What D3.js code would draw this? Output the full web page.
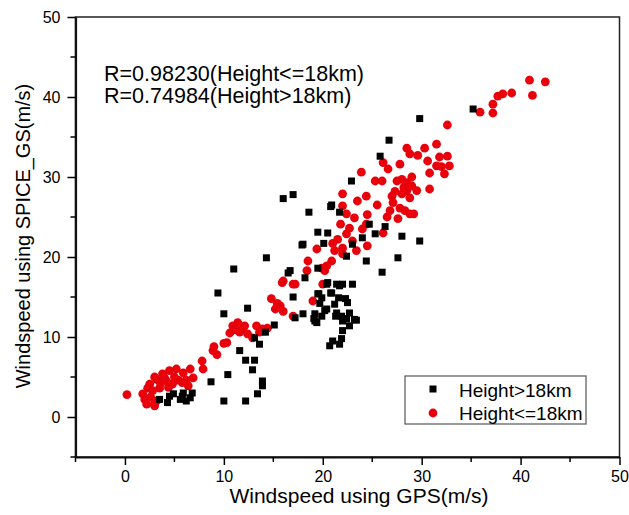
<!DOCTYPE html>
<html>
<head>
<meta charset="utf-8">
<style>
  body { margin: 0; background: #fff; font-family: "Liberation Sans", Arial, sans-serif; }
  svg { display: block; }
  .tick text { font-size: 16px; fill: #000; }
</style>
</head>
<body>
<svg width="629" height="515"></svg>
<script src="https://d3js.org/d3.v7.min.js"></script>
<script>
// Height > 18km (black squares), [GPS, SPICE_GS]
var above18 = [
  [3.5,2.2],[4.3,1.8],[4.9,2.9],[5.6,2.2],[5.9,3.0],[6.6,2.4],[6.8,3.0],[5.8,2.6],[4.5,2.6],[6.2,2.0],
  [8.7,4.4],[10.0,2.0],[10.4,5.3],[12.2,2.0],[13.4,2.9],[13.9,3.9],[13.9,4.5],[12.9,5.9],[12.2,7.1],[13.1,7.1],
  [11.6,8.3],[13.6,9.1],[13.1,9.9],[14.2,10.6],[15.1,11.5],[10.0,12.9],[12.4,13.6],[9.4,15.5],[11.0,18.5],[14.3,19.9],
  [16.5,18.0],[16.7,18.3],[17.0,15.0],[17.2,12.4],[18.0,12.9],[18.2,17.4],[19.2,12.0],[19.4,11.8],[19.5,15.4],[19.5,18.6],
  [16.0,27.3],[17.0,27.8],[18.6,25.6],[19.5,23.1],[17.9,21.5],[20.8,26.3],[21.7,25.6],[20.9,26.5],[20.5,23.0],
  [18.0,21.6],[20.1,21.7],[23.0,21.6],[22.4,20.1],[24.4,19.5],[26.0,18.1],[27.6,19.9],[22.9,29.5],[25.8,32.6],[26.7,34.6],
  [29.8,37.3],[35.2,38.5],[29.8,22.0],[24.7,24.1],[26.3,23.8],[25.3,22.9],[24.0,22.4],[28.0,22.6],
  [20.4,16.6],[21.4,16.6],[22.0,16.6],[23.0,16.6],[19.6,15.4],[20.9,15.5],[21.6,14.9],[22.5,14.3],[19.7,14.2],[20.2,13.3],
  [19.1,12.3],[19.9,12.6],[21.4,13.0],[21.9,12.6],[22.7,13.0],[23.4,12.1],[22.7,11.4],[22.0,10.8],[21.9,9.8],[21.0,9.5],
  [20.7,8.9],[21.7,9.1],[22.0,12.0],[20.5,16.8],[21.7,16.4],[20.8,15.5],[19.9,14.9],[22.3,14.8],[21.2,14.1],[20.4,13.5],
  [19.2,12.9],[21.3,12.6],[22.4,12.3],[23.2,12.2]
];

// Height <= 18km (red circles)
var below18 = [
  [0.2,2.8],[1.8,2.9],[2.2,1.6],[3.0,1.4],[2.5,4.1],[3.2,4.7],[3.8,5.4],[4.5,5.8],[5.2,6.0],[5.9,5.5],
  [6.6,6.0],[6.9,4.9],[5.8,4.3],[4.8,4.1],[4.2,4.5],[3.5,3.6],[2.8,3.3],[6.4,3.9],[2.0,2.2],[2.6,2.5],
  [3.0,5.0],[4.0,4.9],[5.0,5.0],[3.2,2.0],[2.3,3.6],[4.4,3.7],[5.4,4.6],[6.2,4.6],[3.6,4.2],[3.0,1.7],
  [7.8,7.0],[7.9,6.0],[8.9,8.3],[9.3,7.8],[10.3,9.3],[10.6,10.5],[10.9,11.4],[11.4,11.8],[11.9,11.0],[12.4,10.4],
  [12.9,9.9],[13.3,11.4],[13.9,11.0],[14.4,11.1],[11.2,10.9],[11.6,10.6],[12.1,11.4],[9.0,8.8],[10.0,9.2],[13.6,10.6],
  [14.8,14.8],[15.2,13.5],[15.7,13.9],[16.0,13.2],[15.4,14.2],[15.9,16.8],[17.0,16.6],[17.0,12.6],[16.0,17.0],[17.2,16.6],
  [18.5,19.5],[19.0,14.5],[18.4,18.3],[19.9,18.6],[20.2,18.3],[20.4,18.9],[20.0,16.6],[20.9,19.5],[19.4,21.0],[21.2,20.8],
  [22.0,21.1],[22.0,20.4],[23.4,20.8],[21.5,22.2],[22.4,22.9],[22.7,23.6],[21.8,24.1],[23.2,24.9],[22.4,25.4],[22.0,26.4],
  [24.4,24.1],[24.5,21.4],[23.5,27.0],[22.0,27.9],[24.4,27.6],[23.9,30.6],[25.3,29.5],[26.0,29.5],[26.1,31.8],[26.6,31.0],
  [27.5,29.5],[27.8,31.6],[28.0,29.7],[28.5,29.3],[29.0,28.9],[28.5,28.3],[29.5,28.3],[28.0,27.9],[30.8,28.5],[27.1,26.8],
  [28.8,27.4],[27.8,26.1],[28.3,25.8],[26.8,25.8],[28.8,25.4],[27.6,24.8],[29.2,25.4],[26.1,23.0],[28.5,33.6],[28.8,32.9],
  [29.6,32.7],[30.3,33.6],[31.5,34.1],[30.6,32.0],[30.8,30.5],[31.5,31.4],[32.6,32.6],[32.8,31.4],[32.3,30.4],[32.6,36.5],
  [35.9,38.1],[37.2,39.1],[37.2,38.0],[37.7,40.1],[38.2,40.4],[39.1,40.5],[40.9,42.1],[42.5,41.9],[41.2,40.2],[32.0,31.3],
  [31.8,32.5],[28.2,28.7],[27.3,28.2],[29.0,30.0],[27.0,27.6],[26.5,25.0],[25.5,26.5],[23.0,22.0],[24.0,23.5],[21.0,21.7],
  [24.5,25.3]
];

var xTicks = [0, 10, 20, 30, 40, 50];
var yTicks = [0, 10, 20, 30, 40, 50];
var minorX = [-5, 5, 15, 25, 35, 45];
var minorY = [-5, 5, 15, 25, 35, 45];
var rLabels = ["R=0.98230(Height<=18km)", "R=0.74984(Height>18km)"];
var legendLabels = ["Height>18km", "Height<=18km"];

var svg = d3.select("svg");
var mLeft = 75.5, mRight = 619.5, mTop = 17, mBottom = 457;

var x = d3.scaleLinear().domain([-5, 50]).range([mLeft, mRight]);
var y = d3.scaleLinear().domain([-5, 50]).range([mBottom, mTop]);

// frame (top/right)
svg.append("rect")
  .attr("x", mLeft).attr("y", mTop)
  .attr("width", mRight - mLeft).attr("height", mBottom - mTop)
  .attr("fill", "none").attr("stroke", "#222").attr("stroke-width", 1.5);

// axes
var xAxis = svg.append("g")
  .attr("transform", "translate(0," + mBottom + ")")
  .call(d3.axisBottom(x).tickValues(xTicks).tickSize(8).tickSizeOuter(0).tickPadding(6).tickFormat(d3.format("d")));
xAxis.selectAll(".minor").data(minorX).enter().append("line")
  .attr("x1", d => x(d)).attr("x2", d => x(d)).attr("y1", 0).attr("y2", 5)
  .attr("stroke", "#000").attr("stroke-width", 1.5);

var yAxis = svg.append("g")
  .attr("transform", "translate(" + mLeft + ",0)")
  .call(d3.axisLeft(y).tickValues(yTicks).tickSize(8).tickSizeOuter(0).tickPadding(7).tickFormat(d3.format("d")));
yAxis.selectAll(".minor").data(minorY).enter().append("line")
  .attr("y1", d => y(d)).attr("y2", d => y(d)).attr("x1", 0).attr("x2", -5)
  .attr("stroke", "#000").attr("stroke-width", 1.5);

svg.selectAll(".domain").attr("stroke", "#111").attr("stroke-width", 2.2);
svg.selectAll(".tick line").attr("stroke", "#000").attr("stroke-width", 1.5);
svg.selectAll(".tick text").attr("font-family", "Liberation Sans, Arial, sans-serif");

// points
svg.append("g").selectAll("circle").data(below18).enter().append("circle")
  .attr("cx", d => x(d[0])).attr("cy", d => y(d[1])).attr("r", 4.4)
  .attr("fill", "#e8000b");

svg.append("g").selectAll("rect").data(above18).enter().append("rect")
  .attr("x", d => x(d[0]) - 3.5).attr("y", d => y(d[1]) - 3.5)
  .attr("width", 7).attr("height", 7)
  .attr("fill", "#000");

// axis titles
svg.append("text")
  .attr("x", 359).attr("y", 503)
  .attr("text-anchor", "middle").attr("font-size", 21)
  .text("Windspeed using GPS(m/s)");

svg.append("text")
  .attr("transform", "translate(30,236) rotate(-90)")
  .attr("text-anchor", "middle").attr("font-size", 20)
  .text("Windspeed using SPICE_GS(m/s)");

// R annotations
svg.selectAll(".rlab").data(rLabels).enter().append("text")
  .attr("x", 104).attr("y", (d, i) => 81 + i * 22)
  .attr("font-size", 21.5)
  .text(d => d);

// legend
var lg = svg.append("g");
lg.append("rect")
  .attr("x", 405).attr("y", 376).attr("width", 181).attr("height", 48)
  .attr("fill", "#fff").attr("stroke", "#555").attr("stroke-width", 1.2);
lg.append("rect").attr("x", 429.5).attr("y", 385.5).attr("width", 7).attr("height", 7).attr("fill", "#000");
lg.append("circle").attr("cx", 433).attr("cy", 413).attr("r", 4.4).attr("fill", "#e8000b");
lg.selectAll(".ltxt").data(legendLabels).enter().append("text")
  .attr("x", 459).attr("y", (d, i) => 397 + i * 23)
  .attr("font-size", 19)
  .text(d => d);
</script>
</body>
</html>
